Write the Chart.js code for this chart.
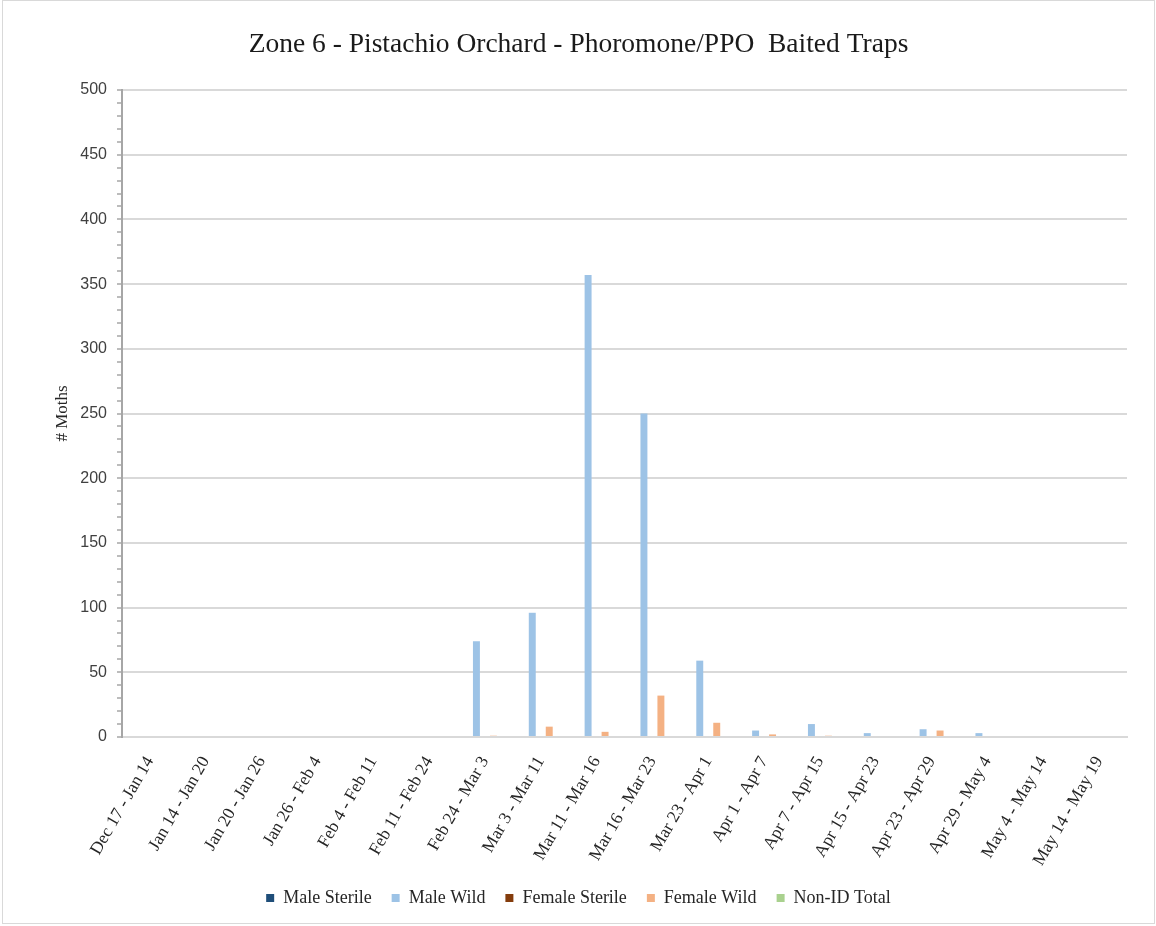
<!DOCTYPE html>
<html>
<head>
<meta charset="utf-8">
<title>Zone 6 - Pistachio Orchard</title>
<script src="https://cdn.jsdelivr.net/npm/chart.js@4.4.1/dist/chart.umd.min.js"></script>
<style>
  html, body { margin: 0; padding: 0; background: #fff; }
  #wrap { width: 1156px; height: 926px; }
</style>
</head>
<body>
<div id="wrap"><canvas id="moths"></canvas></div>
<script>
// Trap periods
var periods = ["Dec 17 - Jan 14", "Jan 14 - Jan 20", "Jan 20 - Jan 26", "Jan 26 - Feb 4",
    "Feb 4 - Feb 11", "Feb 11 - Feb 24", "Feb 24 - Mar 3", "Mar 3 - Mar 11",
    "Mar 11 - Mar 16", "Mar 16 - Mar 23", "Mar 23 - Apr 1", "Apr 1 - Apr 7",
    "Apr 7 - Apr 15", "Apr 15 - Apr 23", "Apr 23 - Apr 29", "Apr 29 - May 4",
    "May 4 - May 14", "May 14 - May 19"];

// Moth counts per period
var maleSterile   = [0, 0, 0, 0, 0, 0, 0, 0, 0, 0, 0, 0, 0, 0, 0, 0, 0, 0];
var maleWild      = [0, 0, 0, 0, 0, 0, 74, 96, 357, 250, 59, 5, 10, 3, 6, 3, 0, 0];
var femaleSterile = [0, 0, 0, 0, 0, 0, 0, 0, 0, 0, 0, 0, 0, 0, 0, 0, 0, 0];
var femaleWild    = [0, 0, 0, 0, 0, 0, 1, 8, 4, 32, 11, 2, 1, 0, 5, 0, 0, 0];
var nonIdTotal    = [0, 0, 0, 0, 0, 0, 0, 0, 0, 0, 0, 0, 0, 0, 0, 0, 0, 0];

var yMax = 500;
var yMajor = 50;
var yMinor = 10;

var serif = "'Liberation Serif', 'Times New Roman', serif";
var sans = "'Liberation Sans', Arial, sans-serif";

// thin frame round the whole picture
var frame = {
    id: 'frame',
    afterDraw: function (chart) {
        var c = chart.ctx;
        c.save();
        c.strokeStyle = '#d9d9d9';
        c.lineWidth = 1;
        c.strokeRect(2.5, 0.5, chart.width - 4, chart.height - 3);
        c.restore();
    }
};

function bar(label, data, color) {
    return {
        label: label,
        data: data,
        backgroundColor: color,
        borderWidth: 0,
        categoryPercentage: 0.76,
        barPercentage: 0.82
    };
}

var ctx = document.getElementById('moths').getContext('2d');
var mothChart = new Chart(ctx, {
    type: 'bar',
    data: {
        labels: periods,
        datasets: [
            bar('Male Sterile', maleSterile, '#1f4e79'),
            bar('Male Wild', maleWild, '#9dc3e6'),
            bar('Female Sterile', femaleSterile, '#843c0c'),
            bar('Female Wild', femaleWild, '#f4b183'),
            bar('Non-ID Total', nonIdTotal, '#a9d18e')
        ]
    },
    options: {
        responsive: true,
        maintainAspectRatio: false,
        animation: false,
        layout: { padding: { top: 0, left: 30, right: 29, bottom: 9 } },
        plugins: {
            title: {
                display: true,
                text: 'Zone 6 - Pistachio Orchard - Phoromone/PPO  Baited Traps',
                color: '#1a1a1a',
                font: { family: serif, size: 27.5, weight: 'normal' },
                padding: { top: 28, bottom: 29 }
            },
            legend: {
                position: 'bottom',
                labels: {
                    color: '#262626',
                    font: { family: serif, size: 18 },
                    boxWidth: 8,
                    boxHeight: 8,
                    padding: 20
                }
            },
            tooltip: { enabled: false }
        },
        scales: {
            x: {
                grid: { display: false },
                border: { color: '#d9d9d9', width: 2 },
                ticks: {
                    color: '#262626',
                    font: { family: serif, size: 17.5 },
                    minRotation: 60,
                    maxRotation: 60,
                    autoSkip: false,
                    padding: 8
                },
                afterFit: function (scale) { scale.height = 132; }
            },
            y: {
                min: 0,
                max: yMax,
                border: { color: '#a6a6a6', width: 2 },
                grid: {
                    lineWidth: 2,
                    tickLength: 5,
                    tickWidth: 1.5,
                    tickColor: '#a6a6a6',
                    color: function (c) {
                        return c.tick && c.tick.value % yMajor === 0 ? '#d9d9d9' : 'rgba(0,0,0,0)';
                    }
                },
                ticks: {
                    stepSize: yMinor,
                    autoSkip: false,
                    color: '#404040',
                    font: { family: sans, size: 16 },
                    padding: 10,
                    callback: function (v) { return v % yMajor === 0 ? v : ''; }
                },
                title: {
                    display: true,
                    text: '# Moths',
                    color: '#262626',
                    font: { family: serif, size: 17 },
                    padding: { top: 22, bottom: 0 }
                },
                afterFit: function (scale) { scale.width = 92; }
            }
        }
    },
    plugins: [frame]
});
</script>
</body>
</html>
